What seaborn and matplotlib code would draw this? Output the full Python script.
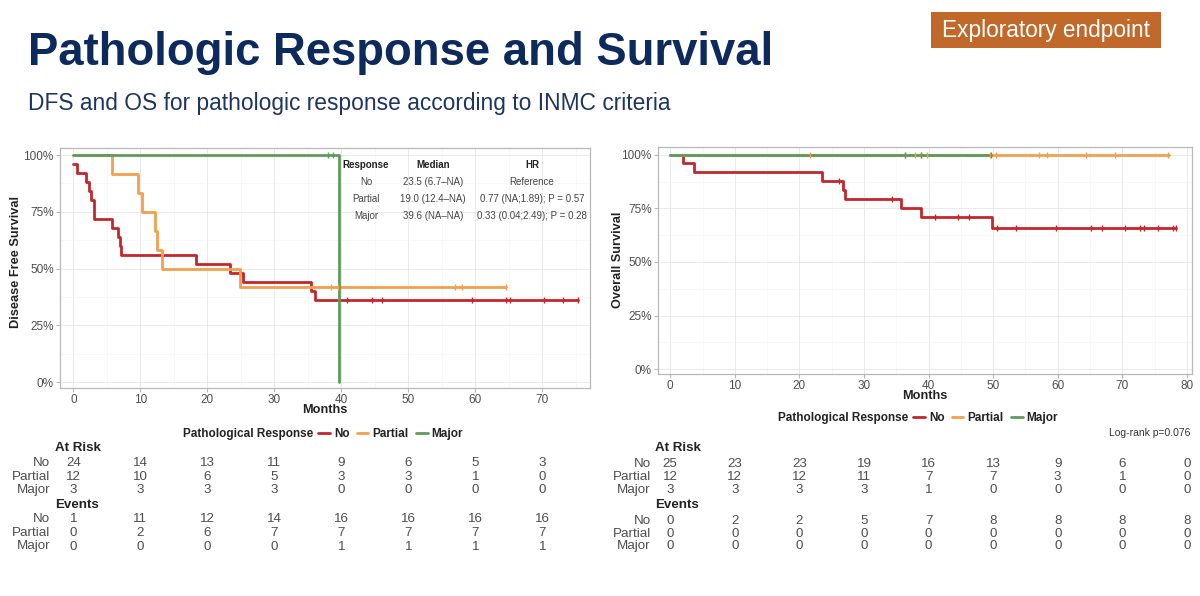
import numpy as np
import pandas as pd
import matplotlib
matplotlib.use("Agg")
import matplotlib.pyplot as plt
import matplotlib.transforms as mtransforms
from matplotlib.lines import Line2D
from matplotlib.patches import Rectangle
from matplotlib.ticker import MultipleLocator, PercentFormatter
import seaborn as sns

groups = ["No", "Partial", "Major"]
colors = {"No": "#c1272d", "Partial": "#f2a04d", "Major": "#5f9a5d"}

# DFS curves: step times (months) and survival after each step
dfs_no_t = [0, 0.6, 1.9, 2.4, 2.6, 3.0, 5.7, 6.6, 6.9, 7.1, 18.3, 23.4, 25.3, 35.4, 36.1, 75.3]
dfs_no_s = [0.96, 0.92, 0.88, 0.84, 0.80, 0.72, 0.68, 0.64, 0.60, 0.56, 0.52, 0.48, 0.44, 0.40, 0.36, 0.36]
dfs_partial_t = [0, 5.7, 9.6, 10.2, 12.2, 12.5, 13.2, 24.8, 64.6]
dfs_partial_s = [1.0, 0.917, 0.833, 0.75, 0.667, 0.583, 0.50, 0.417, 0.417]
dfs_major_t = [0, 39.6]
dfs_major_s = [1.0, 0.0]
dfs_no_cens = [40.8, 44.5, 46.1, 59.5, 64.5, 65.2, 70.3, 73.0, 75.3]
dfs_partial_cens = [38.5, 39.5, 56.9, 58.0, 64.6]
dfs_major_cens = [38.0, 38.7]

# OS curves
os_no_t = [0, 1.9, 3.6, 23.5, 26.8, 27.0, 35.8, 38.9, 49.9, 78.3]
os_no_s = [1.0, 0.96, 0.92, 0.88, 0.838, 0.796, 0.752, 0.708, 0.657, 0.657]
os_partial_t = [0, 77.3]
os_partial_s = [1.0, 1.0]
os_major_t = [0, 49.6]
os_major_s = [1.0, 1.0]
os_no_cens = [26.2, 34.4, 41.0, 44.6, 46.3, 50.6, 53.5, 59.8, 65.1, 66.8, 70.4, 72.8, 73.4, 75.6, 77.8, 78.3]
os_partial_cens = [21.7, 36.4, 37.9, 38.8, 39.7, 49.5, 50.5, 57.1, 58.3, 64.4, 68.8, 77.1]
os_major_cens = [36.4, 38.8, 49.6]

# risk tables
dfs_times = [0, 10, 20, 30, 40, 50, 60, 70]
dfs_risk_no = [24, 14, 13, 11, 9, 6, 5, 3]
dfs_risk_partial = [12, 10, 6, 5, 3, 3, 1, 0]
dfs_risk_major = [3, 3, 3, 3, 0, 0, 0, 0]
dfs_events_no = [1, 11, 12, 14, 16, 16, 16, 16]
dfs_events_partial = [0, 2, 6, 7, 7, 7, 7, 7]
dfs_events_major = [0, 0, 0, 0, 1, 1, 1, 1]

os_times = [0, 10, 20, 30, 40, 50, 60, 70, 80]
os_risk_no = [25, 23, 23, 19, 16, 13, 9, 6, 0]
os_risk_partial = [12, 12, 12, 11, 7, 7, 3, 1, 0]
os_risk_major = [3, 3, 3, 3, 1, 0, 0, 0, 0]
os_events_no = [0, 2, 2, 5, 7, 8, 8, 8, 8]
os_events_partial = [0, 0, 0, 0, 0, 0, 0, 0, 0]
os_events_major = [0, 0, 0, 0, 0, 0, 0, 0, 0]

# median / HR table inside DFS panel
tab_header = ["Response", "Median", "HR"]
tab_response = ["No", "Partial", "Major"]
tab_median = ["23.5 (6.7\u2013NA)", "19.0 (12.4\u2013NA)", "39.6 (NA\u2013NA)"]
tab_hr = ["Reference", "0.77 (NA;1.89); P = 0.57", "0.33 (0.04;2.49); P = 0.28"]

sns.set_style("white")
plt.rcParams["font.family"] = ["Liberation Sans", "DejaVu Sans"]

W, H = 1200, 596
fig = plt.figure(figsize=(12, 5.96), dpi=100)
TXT = 9.6


def fx(px):
    return px / W


def fy(py):
    return 1 - py / H


def curves_df(curves):
    rows = []
    for g, (t, s) in curves.items():
        for ti, si in zip(t, s):
            rows.append({"t": ti, "s": si, "group": g})
    return pd.DataFrame(rows)


def cens_df(curves, cens):
    rows = []
    for g, c in cens.items():
        t, s = np.array(curves[g][0]), np.array(curves[g][1])
        for ci in c:
            idx = np.searchsorted(t, ci, side="right") - 1
            rows.append({"t": ci, "s": s[idx], "group": g})
    return pd.DataFrame(rows)


def style_axes(ax, xlim, ylim):
    ax.set_xlim(*xlim)
    ax.set_ylim(*ylim)
    ax.xaxis.set_major_locator(MultipleLocator(10))
    ax.xaxis.set_minor_locator(MultipleLocator(5))
    ax.yaxis.set_major_locator(MultipleLocator(0.25))
    ax.yaxis.set_minor_locator(MultipleLocator(0.125))
    ax.yaxis.set_major_formatter(PercentFormatter(1.0, decimals=0))
    ax.grid(which="major", color="#e6e6e6", lw=0.6)
    ax.grid(which="minor", color="#f3f3f3", lw=0.4)
    ax.set_axisbelow(True)
    for sp in ax.spines.values():
        sp.set_color("#b8b8b8")
        sp.set_linewidth(0.9)
    ax.tick_params(which="major", length=3, color="#b8b8b8", labelsize=8.5, labelcolor="#4d4d4d", pad=1.5,
                   bottom=True, left=True)
    ax.tick_params(which="minor", length=0)
    ax.set_xlabel("")
    ax.set_ylabel("")


def draw_km(ax, curves, cens):
    df = curves_df(curves)
    sns.lineplot(data=df, x="t", y="s", hue="group", hue_order=groups, palette=colors,
                 drawstyle="steps-post", estimator=None, sort=False, lw=2.0, legend=False, ax=ax)
    cdf = cens_df(curves, cens)
    for g in groups:
        sub = cdf[cdf["group"] == g]
        sns.scatterplot(data=sub, x="t", y="s", color=colors[g], marker="|", s=24, linewidth=1.0,
                        legend=False, ax=ax, zorder=3)


def draw_legend(title_right, y):
    fig.text(fx(title_right), fy(y), "Pathological Response", ha="right", va="center",
             fontsize=8.5, fontweight="bold", color="#222222")
    handles = [Line2D([0], [0], color=colors[g], lw=2) for g in groups]
    leg = fig.legend(handles, groups, loc="center left", bbox_to_anchor=(fx(title_right + 5), fy(y)),
                     ncol=3, frameon=False, handlelength=1.0, handletextpad=0.35, columnspacing=0.6,
                     borderpad=0, borderaxespad=0, prop={"size": 8.5, "weight": "bold"})
    for t in leg.get_texts():
        t.set_color("#222222")


def draw_risk(ax, times, risk, events, label_x, head_x, rows_y):
    tr = mtransforms.blended_transform_factory(ax.transData, fig.transFigure)
    fig.text(fx(head_x), fy(rows_y[0]), "At Risk", ha="left", va="center", fontsize=TXT,
             fontweight="bold", color="#222222")
    fig.text(fx(head_x), fy(rows_y[4]), "Events", ha="left", va="center", fontsize=TXT,
             fontweight="bold", color="#222222")
    for block, base in ((risk, 1), (events, 5)):
        for i, g in enumerate(groups):
            yy = fy(rows_y[base + i])
            fig.text(fx(label_x), yy, g, ha="right", va="center", fontsize=TXT, color="#4d4d4d")
            for t, v in zip(times, block[g]):
                ax.text(t, yy, str(v), transform=tr, ha="center", va="center", fontsize=TXT,
                        color="#4d4d4d", clip_on=False)


# ---- DFS panel
ax1 = fig.add_axes([fx(60), fy(388), fx(590 - 60), (388 - 148) / H])
dfs_curves = {"No": (dfs_no_t, dfs_no_s), "Partial": (dfs_partial_t, dfs_partial_s),
              "Major": (dfs_major_t, dfs_major_s)}
dfs_cens = {"No": dfs_no_cens, "Partial": dfs_partial_cens, "Major": dfs_major_cens}
draw_km(ax1, dfs_curves, dfs_cens)
style_axes(ax1, (-2.0, 77.1), (-0.026, 1.031))

# inner table
tab_x = [366, 433, 532]
tab_y = [165, 182, 199, 216]
for j, h in enumerate(tab_header):
    fig.text(fx(tab_x[j]), fy(tab_y[0]), h, ha="center", va="center", fontsize=7,
             fontweight="bold", color="#222222")
for i in range(3):
    for j, col in enumerate((tab_response, tab_median, tab_hr)):
        fig.text(fx(tab_x[j]), fy(tab_y[i + 1]), col[i], ha="center", va="center", fontsize=7,
                 color="#444444")

fig.text(fx(16), fy(262), "Disease Free Survival", rotation=90, ha="center", va="center",
         fontsize=9.2, fontweight="bold", color="#222222")
fig.text(fx(325), fy(410), "Months", ha="center", va="center", fontsize=9.2, fontweight="bold",
         color="#222222")
draw_legend(313, 434)
draw_risk(ax1, dfs_times,
          {"No": dfs_risk_no, "Partial": dfs_risk_partial, "Major": dfs_risk_major},
          {"No": dfs_events_no, "Partial": dfs_events_partial, "Major": dfs_events_major},
          50, 55, [448, 462.5, 476.5, 490, 505, 519.5, 533, 546.5])

# ---- OS panel
ax2 = fig.add_axes([fx(658), fy(374), fx(1192 - 658), (374 - 147) / H])
os_curves = {"No": (os_no_t, os_no_s), "Partial": (os_partial_t, os_partial_s),
             "Major": (os_major_t, os_major_s)}
os_cens = {"No": os_no_cens, "Partial": os_partial_cens, "Major": os_major_cens}
draw_km(ax2, os_curves, os_cens)
style_axes(ax2, (-1.9, 80.8), (-0.023, 1.037))

fig.text(fx(618), fy(260), "Overall Survival", rotation=90, ha="center", va="center",
         fontsize=9.2, fontweight="bold", color="#222222")
fig.text(fx(925), fy(396), "Months", ha="center", va="center", fontsize=9.2, fontweight="bold",
         color="#222222")
draw_legend(908, 418)
fig.text(fx(1190), fy(433), "Log-rank p=0.076", ha="right", va="center", fontsize=7.5, color="#333333")
draw_risk(ax2, os_times,
          {"No": os_risk_no, "Partial": os_risk_partial, "Major": os_risk_major},
          {"No": os_events_no, "Partial": os_events_partial, "Major": os_events_major},
          651, 655, [448, 464, 477, 490, 505, 521, 534, 546])

# ---- slide title
fig.text(fx(28), fy(65), "Pathologic Response and Survival", ha="left", va="baseline",
         fontsize=32.8, fontweight="bold", color="#0c2a5b")
fig.text(fx(28), fy(110), "DFS and OS for pathologic response according to INMC criteria",
         ha="left", va="baseline", fontsize=16.4, color="#1f3560")
fig.add_artist(Rectangle((fx(931), fy(48.3)), fx(230), 36.6 / H, transform=fig.transFigure,
                         facecolor="#c0692b", edgecolor="none"))
fig.text(fx(1046), fy(30), "Exploratory endpoint", ha="center", va="center", fontsize=16.3,
         color="white")

fig.savefig("out.png", dpi=100, facecolor="white")
